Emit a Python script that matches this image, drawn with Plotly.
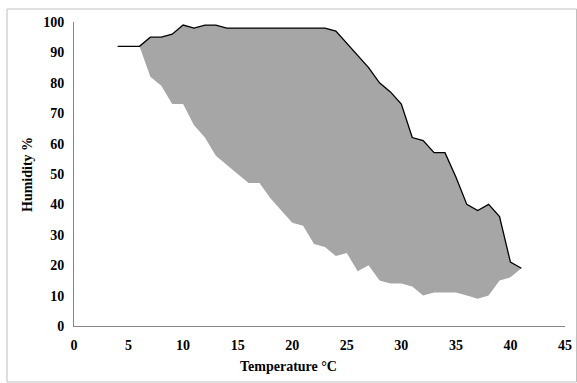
import plotly.graph_objects as go

# Upper boundary (black line)
upper_t = [4, 6, 7, 8, 9, 10, 11, 12, 13, 14, 15, 16, 17, 18, 19, 20, 21, 22, 23, 24, 25, 26, 27, 28, 29, 30, 31, 32, 33, 34, 35, 36, 37, 38, 39, 40, 41]
upper_h = [92, 92, 95, 95, 96, 99, 98, 99, 99, 98, 98, 98, 98, 98, 98, 98, 98, 98, 98, 97, 93, 89, 85, 80, 77, 73, 62, 61, 57, 57, 49, 40, 38, 40, 36, 21, 19]

# Lower boundary (no line)
lower_t = [6, 7, 8, 9, 10, 11, 12, 13, 14, 15, 16, 17, 18, 19, 20, 21, 22, 23, 24, 25, 26, 27, 28, 29, 30, 31, 32, 33, 34, 35, 36, 37, 38, 39, 40, 41]
lower_h = [92, 82, 79, 73, 73, 66, 62, 56, 53, 50, 47, 47, 42, 38, 34, 33, 27, 26, 23, 24, 18, 20, 15, 14, 14, 13, 10, 11, 11, 11, 10, 9, 10, 15, 16, 19]

x_ticks = [0, 5, 10, 15, 20, 25, 30, 35, 40, 45]
y_ticks = [0, 10, 20, 30, 40, 50, 60, 70, 80, 90, 100]

# polygon: upper from x=6 onward, then lower reversed
start = upper_t.index(6)
poly_x = upper_t[start:] + lower_t[::-1]
poly_y = upper_h[start:] + lower_h[::-1]

fig = go.Figure()
fig.add_trace(go.Scatter(x=poly_x, y=poly_y, mode="lines", fill="toself",
                         fillcolor="#a6a6a6", line=dict(width=0, color="#a6a6a6"),
                         hoverinfo="skip", showlegend=False))
fig.add_trace(go.Scatter(x=upper_t, y=upper_h, mode="lines",
                         line=dict(color="black", width=1.3), showlegend=False))

W, H = 577, 383
L, R, T, B = 74, 12, 22, 57
pw, ph = W - L - R, H - T - B

font = dict(family="Liberation Serif", size=14, color="black")

fig.update_layout(
    width=W, height=H,
    margin=dict(l=L, r=R, t=T, b=B, autoexpand=False),
    paper_bgcolor="white", plot_bgcolor="white",
    font=font,
    xaxis=dict(range=[0, 45], tickvals=x_ticks, ticktext=[f"<b>{v}</b>" for v in x_ticks],
               showgrid=False, zeroline=False, showline=True, linecolor="#868686",
               linewidth=1, ticks="", tickfont=font, automargin=False, ticklabelstandoff=6),
    yaxis=dict(range=[0, 100], tickvals=y_ticks, ticktext=[f"<b>{v}</b>" for v in y_ticks],
               showgrid=False, zeroline=False, showline=True, linecolor="#868686",
               linewidth=1, ticks="", tickfont=font, automargin=False, ticklabelstandoff=6),
    annotations=[
        dict(text="<b>Temperature °C</b>", xref="paper", yref="paper",
             x=(288 - L) / pw, y=-(366 - (T + ph)) / ph, showarrow=False,
             xanchor="center", yanchor="middle", font=font),
        dict(text="<b>Humidity %</b>", xref="paper", yref="paper",
             x=(27 - L) / pw, y=(T + ph - 175) / ph, showarrow=False,
             textangle=-90, xanchor="center", yanchor="middle", font=font),
    ],
    shapes=[
        dict(type="rect", xref="paper", yref="paper",
             x0=(7 - L) / pw, x1=(576.5 - L) / pw,
             y0=(T + ph - 382) / ph, y1=(T + ph - 9) / ph,
             line=dict(color="#bfbfbf", width=1), fillcolor="rgba(0,0,0,0)",
             layer="below"),
    ],
)

fig.write_html("out.html")
